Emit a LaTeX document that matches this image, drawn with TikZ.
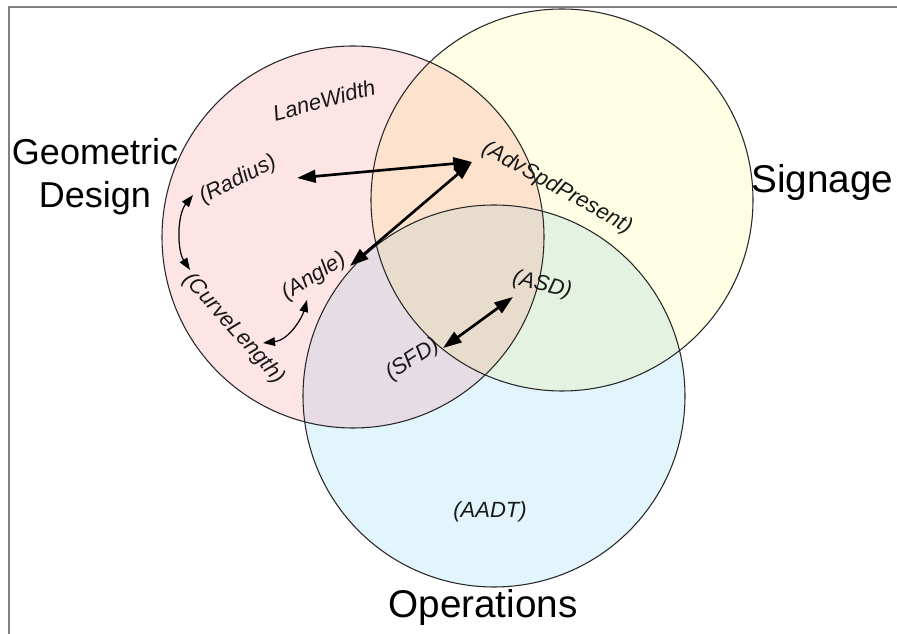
\documentclass[tikz,border=0pt]{standalone}
\usepackage{fontspec}
\setmainfont{Liberation Sans}
\usetikzlibrary{arrows.meta}
\definecolor{cpink}{RGB}{253,229,230}
\definecolor{cyel}{RGB}{255,255,230}
\definecolor{cblue}{RGB}{227,245,252}
\definecolor{cpy}{RGB}{253,227,206}
\definecolor{cpb}{RGB}{229,220,228}
\definecolor{cyb}{RGB}{228,242,226}
\definecolor{cpyb}{RGB}{232,221,204}
\definecolor{cframe}{RGB}{128,128,128}
\definecolor{cline}{RGB}{40,40,40}
\tikzset{
  lab/.style={font=\fontsize{16.5pt}{19pt}\selectfont\itshape, inner sep=0pt, text=black!90},
  biglab/.style={font=\fontsize{29pt}{32.25pt}\selectfont, inner sep=0pt, align=center},
  ring/.style={draw=cline, line width=0.8pt},
  bigarrow/.style={line width=2pt, {Triangle[length=14pt,width=9.5pt]}-{Triangle[length=14pt,width=9.5pt]}},
  smallarrow/.style={line width=0.9pt, {Triangle[length=9pt,width=6.5pt]}-{Triangle[length=9pt,width=6.5pt]}},
}
\begin{document}
\begin{tikzpicture}[x=0.75pt,y=-0.75pt]
\useasboundingbox (0,0) rectangle (897,634);
\fill[white] (0,0) rectangle (897,634);
\def\pinkc{(353,237) circle[radius=143.25pt]}
\def\yelc{(562,200) circle[radius=143.25pt]}
\def\bluc{(494,396) circle[radius=143.25pt]}
% frame
\draw[cframe, line width=1.5pt] (9,634) -- (9,7) -- (897,7);
% circle fills
\fill[cpink] \pinkc;
\fill[cyel] \yelc;
\fill[cblue] \bluc;
\begin{scope}
  \clip \yelc;
  \fill[cyb] \bluc;
\end{scope}
\begin{scope}
  \clip \pinkc;
  \fill[cpy] \yelc;
  \fill[cpb] \bluc;
  \clip \yelc;
  \fill[cpyb] \bluc;
\end{scope}
\draw[ring] \pinkc;
\draw[ring] \yelc;
\draw[ring] \bluc;
% big labels
\node[biglab, font=\fontsize{27pt}{32.25pt}\selectfont] (geo) at (95,177) {Geometric\\Design};
\node[biglab, anchor=base west] (sig) at (751,193) {Signage};
\node[biglab, anchor=base] (ops) at (483,618) {Operations};
% small labels
\node[lab, rotate=15] (lane) at (324,100) {LaneWidth};
\node[lab, rotate=27] (radius) at (238,180) {(Radius)};
\node[lab, rotate=-29] (adv) at (557,188) {(AdvSpdPresent)};
\node[lab, rotate=-48] (curve) at (234,329) {(CurveLength)};
\node[lab, rotate=32] (angle) at (314,277) {(Angle)};
\node[lab, rotate=-14] (asd) at (542,285) {(ASD)};
\node[lab, rotate=33] (sfd) at (413,360) {(SFD)};
\node[lab] (aadt) at (490,512) {(AADT)};
% arrow end points
\coordinate (radE) at (297,178);
\coordinate (advE) at (472,162);
\coordinate (angE) at (350,266);
\coordinate (sfdE) at (443,348);
\coordinate (asdE) at (513,297);
\coordinate (radS) at (193,195);
\coordinate (curS) at (190,270);
\coordinate (angS) at (307,300);
\coordinate (curA) at (263,343);
% arrows
\draw[bigarrow] (radE) -- (advE);
\draw[bigarrow] (angE) -- (advE);
\draw[bigarrow] (sfdE) -- (asdE);
\draw[smallarrow] (radS) .. controls (177,215) and (177,250) .. (curS);
\draw[smallarrow] (angS) .. controls (302,318) and (289,340) .. (curA);
\end{tikzpicture}
\end{document}
